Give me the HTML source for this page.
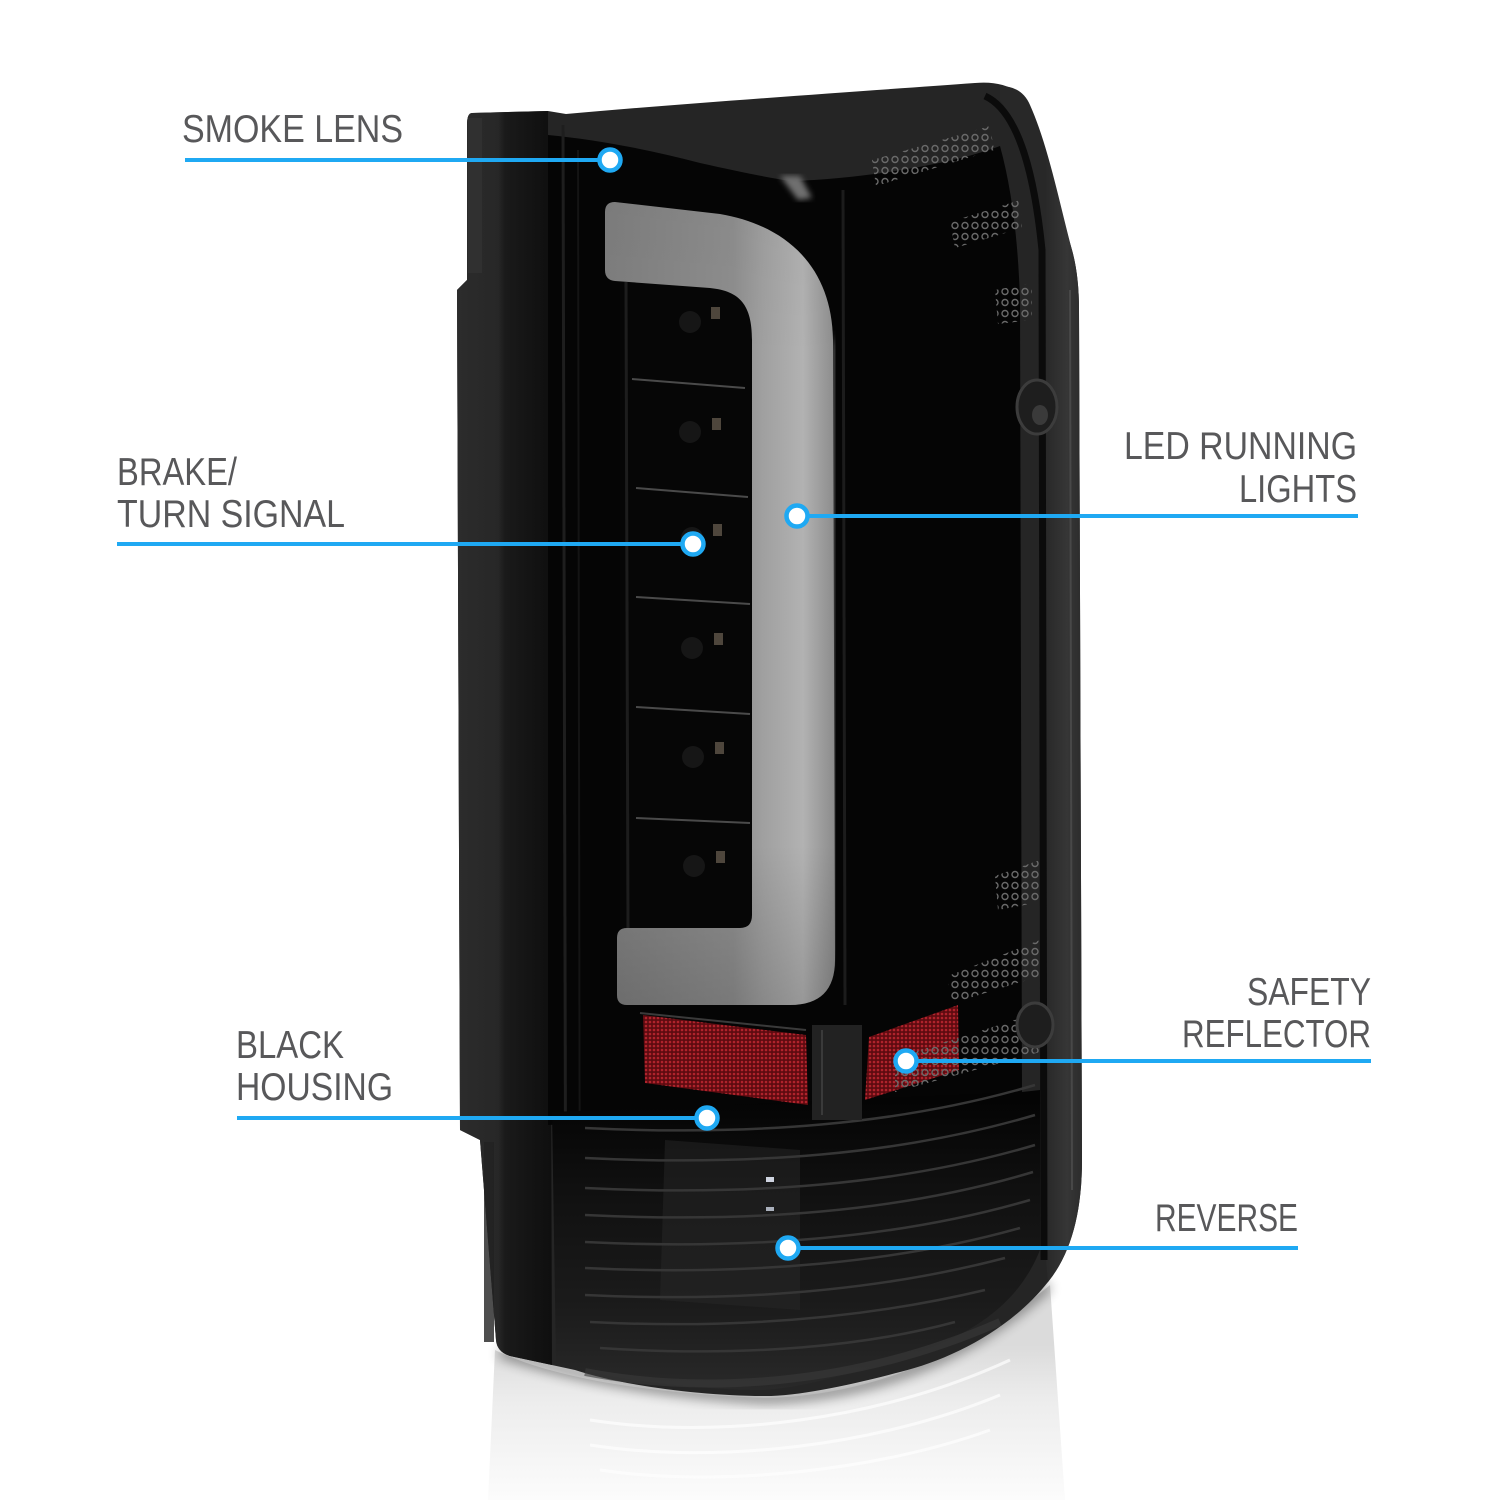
<!DOCTYPE html>
<html><head><meta charset="utf-8"><style>
html,body{margin:0;padding:0;background:#fff;}
svg{display:block}
</style></head><body>
<svg width="1500" height="1500" viewBox="0 0 1500 1500" xmlns="http://www.w3.org/2000/svg">
<defs>
  <linearGradient id="flange" gradientUnits="userSpaceOnUse" x1="456" y1="0" x2="550" y2="0">
    <stop offset="0" stop-color="#2c2c2c"/>
    <stop offset="0.45" stop-color="#272727"/>
    <stop offset="0.52" stop-color="#1a1a1a"/>
    <stop offset="1" stop-color="#0f0f0f"/>
  </linearGradient>
  <linearGradient id="barH" gradientUnits="userSpaceOnUse" x1="605" y1="0" x2="838" y2="0">
    <stop offset="0" stop-color="#7e7e7e"/>
    <stop offset="0.55" stop-color="#8e8e8e"/>
    <stop offset="0.68" stop-color="#a0a0a0"/>
    <stop offset="0.85" stop-color="#b2b2b2"/>
    <stop offset="1" stop-color="#888"/>
  </linearGradient>
  <linearGradient id="barV" gradientUnits="userSpaceOnUse" x1="0" y1="200" x2="0" y2="1006">
    <stop offset="0" stop-color="#000" stop-opacity="0.03"/>
    <stop offset="0.2" stop-color="#000" stop-opacity="0"/>
    <stop offset="0.8" stop-color="#000" stop-opacity="0"/>
    <stop offset="1" stop-color="#000" stop-opacity="0.15"/>
  </linearGradient>
  <linearGradient id="bottomG" gradientUnits="userSpaceOnUse" x1="0" y1="1100" x2="0" y2="1395">
    <stop offset="0" stop-color="#040404"/>
    <stop offset="0.3" stop-color="#101010"/>
    <stop offset="0.7" stop-color="#1b1b1b"/>
    <stop offset="1" stop-color="#2a2a2a"/>
  </linearGradient>
  <linearGradient id="refl" gradientUnits="userSpaceOnUse" x1="0" y1="1345" x2="0" y2="1500">
    <stop offset="0" stop-color="#cfcfcf"/>
    <stop offset="0.35" stop-color="#e6e6e6"/>
    <stop offset="1" stop-color="#fbfbfb"/>
  </linearGradient>
  <linearGradient id="rband" gradientUnits="userSpaceOnUse" x1="1045" y1="0" x2="1082" y2="0">
    <stop offset="0" stop-color="#282828"/>
    <stop offset="0.6" stop-color="#363636"/>
    <stop offset="1" stop-color="#2c2c2c"/>
  </linearGradient>
  <pattern id="redp" patternUnits="userSpaceOnUse" width="4" height="4">
    <rect width="4" height="4" fill="#5e0b10"/>
    <circle cx="2" cy="2" r="1.3" fill="#b0232c"/>
  </pattern>
  <pattern id="dots" patternUnits="userSpaceOnUse" width="10" height="11">
    <circle cx="5" cy="5.5" r="3" fill="none" stroke="#6a6a6a" stroke-width="1.4"/>
  </pattern>
  <filter id="blur3"><feGaussianBlur stdDeviation="3"/></filter>
  <filter id="blur6"><feGaussianBlur stdDeviation="6"/></filter>
</defs>

<rect width="1500" height="1500" fill="#ffffff"/>

<!-- reflection -->
<path d="M495,1350 C540,1372 620,1392 765,1398 C860,1396 960,1362 1050,1285 L1065,1500 L488,1500 Z" fill="url(#refl)" opacity="0.75"/>
<g stroke="#ffffff" stroke-width="3" fill="none" opacity="0.7">
  <path d="M590,1420 C720,1440 880,1420 1010,1360"/>
  <path d="M590,1445 C720,1465 880,1445 1000,1395"/>
  <path d="M600,1470 C720,1488 880,1470 990,1430"/>
</g>
<path d="M500,1352 C560,1372 650,1392 765,1398 C860,1396 960,1365 1048,1285" stroke="#000" stroke-width="10" fill="none" opacity="0.45" filter="url(#blur6)"/>

<!-- silhouette -->
<path d="M472,113 L548,111 L566,114 C700,102 880,90 975,83 Q1010,80 1025,100 C1045,140 1058,200 1072,250 Q1079,275 1079,310 L1082,1160 Q1082,1240 1048,1282 C1010,1330 950,1360 900,1372 C850,1385 800,1396 765,1396 C700,1396 620,1385 575,1370 L510,1356 Q497,1352 496,1340 L480,1140 L460,1130 L457,290 L467,280 L467,125 Q467,113 472,113 Z" fill="#252525"/>

<!-- flange -->
<path d="M467,125 Q467,113 472,113 L548,111 L552,1365 L510,1356 Q497,1352 496,1340 L480,1140 L460,1130 L457,290 L467,280 Z" fill="url(#flange)"/>
<rect x="468" y="118" width="14" height="155" fill="#333" opacity="0.7"/>
<rect x="484" y="1142" width="10" height="200" fill="#222" opacity="0.8"/>

<!-- right band -->
<path d="M1000,86 Q1022,86 1030,105 C1048,145 1060,205 1072,250 Q1079,275 1079,310 L1082,1160 Q1082,1240 1048,1282 L1046,1260 L1046,300 C1042,220 1028,140 1000,100 Z" fill="url(#rband)"/>
<path d="M985,96 C1020,112 1035,180 1042,250 L1044,1260" stroke="#0b0b0b" stroke-width="7" fill="none"/>
<path d="M1070,290 L1072,1190" stroke="#484848" stroke-width="2" fill="none"/>

<!-- lens interior black -->
<path d="M548,135 C600,140 650,150 700,163 C740,172 770,178 790,181 C860,179 950,165 1000,146 C1012,190 1018,240 1020,300 L1022,1100 L548,1125 Z" fill="#050505"/>
<line x1="563" y1="125" x2="566" y2="1360" stroke="#1e1e1e" stroke-width="3"/>
<line x1="578" y1="150" x2="580" y2="1350" stroke="#141414" stroke-width="2"/>
<line x1="843" y1="190" x2="845" y2="1005" stroke="#1c1c1c" stroke-width="3"/>

<!-- bottom rib region -->
<path d="M552,1112 L1022,1092 L1040,1090 L1040,1250 C1020,1300 980,1330 920,1352 C860,1372 800,1388 765,1390 C700,1390 620,1380 575,1368 L556,1362 Z" fill="url(#bottomG)"/>
<path d="M665,1140 L800,1150 L800,1310 L660,1300 Z" fill="#2a2a2a" opacity="0.45"/>
<g stroke="#363636" stroke-width="2.5" fill="none">
  <path d="M585,1128 C750,1136 900,1125 1035,1085"/>
  <path d="M585,1158 C750,1166 900,1155 1035,1115"/>
  <path d="M585,1188 C750,1196 900,1185 1035,1145"/>
  <path d="M585,1215 C750,1223 900,1212 1033,1172"/>
  <path d="M585,1242 C750,1250 900,1238 1030,1200"/>
  <path d="M585,1268 C750,1276 900,1262 1020,1228"/>
  <path d="M585,1295 C750,1303 890,1288 1005,1258"/>
  <path d="M590,1322 C750,1330 880,1315 985,1290"/>
  <path d="M600,1348 C750,1358 870,1345 955,1322"/>
</g>
<path d="M585,1372 C700,1394 850,1388 1000,1322" stroke="#3a3a3a" stroke-width="8" fill="none" opacity="0.6"/>
<rect x="766" y="1177" width="8" height="5" fill="#cfd4e0"/>
<rect x="766" y="1207" width="8" height="4" fill="#aab0bc"/>

<!-- top rim glint -->
<path d="M780,176 L800,176 L812,198 L798,200 Z" fill="#707070" filter="url(#blur3)"/>

<!-- LED cells -->
<rect x="620" y="282" width="132" height="646" fill="#060606"/>
<line x1="626" y1="282" x2="628" y2="928" stroke="#1d1d1d" stroke-width="3"/>
<g stroke="#4a4a4a" stroke-width="2">
  <line x1="632" y1="379" x2="745" y2="388"/>
  <line x1="636" y1="488" x2="748" y2="497"/>
  <line x1="636" y1="597" x2="750" y2="604"/>
  <line x1="636" y1="707" x2="750" y2="714"/>
  <line x1="636" y1="818" x2="750" y2="823"/>
</g>
<g fill="#4e463c">
  <rect x="711" y="307" width="9" height="12"/>
  <rect x="712" y="418" width="9" height="12"/>
  <rect x="713" y="524" width="9" height="12"/>
  <rect x="714" y="633" width="9" height="12"/>
  <rect x="715" y="742" width="9" height="12"/>
  <rect x="716" y="851" width="9" height="12"/>
</g>
<g fill="#161616">
  <circle cx="690" cy="322" r="11"/><circle cx="690" cy="432" r="11"/><circle cx="692" cy="538" r="11"/>
  <circle cx="692" cy="648" r="11"/><circle cx="693" cy="757" r="11"/><circle cx="694" cy="866" r="11"/>
</g>

<!-- light bar glow -->
<path d="M833,340 L835,960" stroke="#3a3a3a" stroke-width="16" fill="none" filter="url(#blur6)"/>
<!-- light bar -->
<path d="M615,202 L720,214 C790,226 832,270 833,340 L835,960 Q835,1005 790,1005 L627,1005 Q617,1005 617,995 L617,938 Q617,928 627,928 L740,928 Q752,928 752,915 L752,340 C752,305 740,291 710,288 L615,281 Q605,280 605,270 L605,212 Q605,202 615,202 Z" fill="url(#barH)"/>
<path d="M615,202 L720,214 C790,226 832,270 833,340 L835,960 Q835,1005 790,1005 L627,1005 Q617,1005 617,995 L617,938 Q617,928 627,928 L740,928 Q752,928 752,915 L752,340 C752,305 740,291 710,288 L615,281 Q605,280 605,270 L605,212 Q605,202 615,202 Z" fill="url(#barV)"/>

<!-- reflectors -->
<path d="M643,1015 L806,1035 L808,1105 L645,1083 Z" fill="url(#redp)"/>
<line x1="640" y1="1013" x2="806" y2="1030" stroke="#3a3a3a" stroke-width="2"/>
<rect x="812" y="1025" width="50" height="95" fill="#222"/>
<line x1="822" y1="1030" x2="822" y2="1115" stroke="#3a3a3a" stroke-width="2"/>
<path d="M869,1037 L958,1005 L959,1070 L865,1100 Z" fill="url(#redp)"/>

<!-- dot clusters -->
<g fill="url(#dots)">
  <path d="M872,160 L990,126 L994,150 L876,186 Z"/>
  <path d="M950,222 L1020,200 L1022,228 L955,248 Z"/>
  <path d="M995,290 L1032,283 L1032,320 L998,324 Z"/>
  <path d="M995,876 L1040,860 L1040,902 L998,910 Z"/>
  <path d="M948,976 L1040,940 L1040,976 L950,1004 Z"/>
  <path d="M895,1058 L1040,1012 L1040,1052 L895,1092 Z"/>
</g>

<!-- bumps -->
<ellipse cx="1037" cy="407" rx="20" ry="27" fill="#1e1e1e" stroke="#3c3c3c" stroke-width="3"/>
<ellipse cx="1040" cy="415" rx="8" ry="10" fill="#3a3a3a"/>
<ellipse cx="1035" cy="1025" rx="18" ry="22" fill="#1e1e1e" stroke="#3c3c3c" stroke-width="3"/>

<!-- callout lines -->
<g stroke="#1fa9f3" stroke-width="4" fill="none">
  <line x1="185" y1="160" x2="610" y2="160"/>
  <line x1="117" y1="544" x2="693" y2="544"/>
  <line x1="797" y1="516" x2="1358" y2="516"/>
  <line x1="906" y1="1061" x2="1371" y2="1061"/>
  <line x1="237" y1="1118" x2="707" y2="1118"/>
  <line x1="788" y1="1248" x2="1298" y2="1248"/>
</g>
<g fill="#ffffff" stroke="#1fa9f3" stroke-width="4.5">
  <circle cx="610" cy="160" r="10.5"/>
  <circle cx="693" cy="544" r="10.5"/>
  <circle cx="797" cy="516" r="10.5"/>
  <circle cx="906" cy="1061" r="10.5"/>
  <circle cx="707" cy="1118" r="10.5"/>
  <circle cx="788" cy="1248" r="10.5"/>
</g>

<!-- labels -->
<g font-family="'Liberation Sans', sans-serif" font-size="39" fill="#58585a">
  <text x="182" y="142" textLength="221" lengthAdjust="spacingAndGlyphs">SMOKE LENS</text>
  <text x="117" y="485" textLength="120" lengthAdjust="spacingAndGlyphs">BRAKE/</text>
  <text x="117" y="527" textLength="228" lengthAdjust="spacingAndGlyphs">TURN SIGNAL</text>
  <text x="1124" y="459" textLength="233" lengthAdjust="spacingAndGlyphs">LED RUNNING</text>
  <text x="1239" y="502" textLength="118" lengthAdjust="spacingAndGlyphs">LIGHTS</text>
  <text x="1247" y="1005" textLength="124" lengthAdjust="spacingAndGlyphs">SAFETY</text>
  <text x="1182" y="1047" textLength="189" lengthAdjust="spacingAndGlyphs">REFLECTOR</text>
  <text x="236" y="1058" textLength="108" lengthAdjust="spacingAndGlyphs">BLACK</text>
  <text x="236" y="1100" textLength="157" lengthAdjust="spacingAndGlyphs">HOUSING</text>
  <text x="1155" y="1231" textLength="143" lengthAdjust="spacingAndGlyphs">REVERSE</text>
</g>
</svg>
</body></html>
